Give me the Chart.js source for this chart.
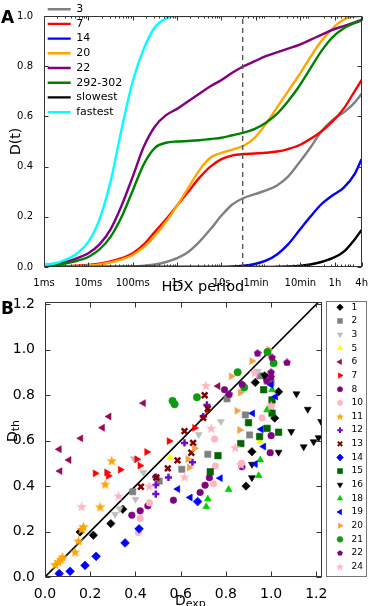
<!DOCTYPE html>
<html lang="en">
<head>
<meta charset="UTF-8">
<title>HDX D(t) curves and Dth vs Dexp</title>
<script src="https://cdn.jsdelivr.net/npm/chart.js@4.4.1/dist/chart.umd.min.js"></script>
<style>
  html, body { margin: 0; padding: 0; background: #fff; }
  body { width: 370px; height: 606px; position: relative; overflow: hidden; }
  canvas { position: absolute; left: 0; }
  #chartA { top: 0; }
  #chartB { top: 290px; }
</style>
</head>
<body>
<canvas id="chartA" width="370" height="296"></canvas>
<canvas id="chartB" width="370" height="316"></canvas>
<script>
Chart.defaults.font.family = "'DejaVu Sans', sans-serif";
Chart.defaults.color = '#000';
Chart.defaults.animation = false;

// ---------- panel A data: D(t) against HDX period (seconds)
const hdxTimes = [0.001, 0.00178, 0.00316, 0.00562, 0.01, 0.0178, 0.0316, 0.0562,
  0.1, 0.178, 0.316, 0.562, 1, 1.78, 3.16, 5.62, 10, 17.8, 31.6, 56.2,
  100, 178, 316, 562, 1000, 1780, 3160, 5620, 10000, 14400];
const curve3 = [0,0,0,0,0,0,0,0.001,0.002,0.005,0.01,0.02,0.035,0.06,0.10,0.15,0.205,0.25,0.275,0.29,0.305,0.325,0.36,0.415,0.475,0.54,0.585,0.615,0.655,0.69];
const curve7 = [0.001,0.002,0.003,0.005,0.008,0.013,0.022,0.035,0.055,0.09,0.14,0.19,0.245,0.30,0.355,0.40,0.43,0.445,0.45,0.452,0.455,0.46,0.47,0.485,0.51,0.54,0.58,0.63,0.70,0.745];
const curve14 = [0,0,0,0,0,0,0,0,0,0,0,0,0,0,0,0,0,0.002,0.005,0.012,0.025,0.05,0.09,0.145,0.2,0.25,0.285,0.315,0.37,0.43];
const curve20 = [0.001,0.001,0.002,0.003,0.006,0.01,0.018,0.03,0.048,0.08,0.125,0.18,0.245,0.315,0.385,0.435,0.455,0.468,0.483,0.515,0.57,0.635,0.70,0.765,0.835,0.90,0.95,0.985,0.998,1.0];
const curve22 = [0.008,0.013,0.02,0.035,0.055,0.09,0.15,0.245,0.36,0.48,0.56,0.605,0.63,0.66,0.69,0.72,0.745,0.775,0.80,0.82,0.84,0.855,0.87,0.885,0.905,0.925,0.945,0.96,0.975,0.985];
const curveMid = [0.005,0.009,0.015,0.025,0.04,0.07,0.12,0.2,0.305,0.41,0.475,0.495,0.5,0.502,0.505,0.51,0.515,0.525,0.535,0.55,0.575,0.61,0.66,0.72,0.79,0.86,0.915,0.95,0.972,0.982];
const curveSlow = [0,0,0,0,0,0,0,0,0,0,0,0,0,0,0,0,0,0,0,0,0,0.001,0.002,0.004,0.01,0.02,0.035,0.06,0.11,0.148];
const curveFast = [0.008,0.015,0.03,0.055,0.10,0.19,0.34,0.55,0.74,0.87,0.955,0.99,1,1,1,1,1,1,1,1,1,1,1,1,1,1,1,1,1,1];
const curveNames = ['3', '7', '14', '20', '22', '292-302', 'slowest', 'fastest'];
const tickTimes = [0.001, 0.01, 0.1, 1, 10, 60, 600, 3600, 14400];
const tickNames = ['1ms', '10ms', '100ms', '1s', '10s', '1min', '10min', '1h', '4h'];
const deadTime = 30;

const curves = [curve3, curve7, curve14, curve20, curve22, curveMid, curveSlow, curveFast];
const lineColors = ['#808080', '#ff0000', '#0000ff', '#ffa500', '#800080', '#008000', '#000000', '#00ffff'];

const dsA = curves.map((c, i) => ({
  label: curveNames[i],
  data: hdxTimes.map((t, k) => ({ x: t, y: c[k] })),
  borderColor: lineColors[i],
  backgroundColor: lineColors[i],
  borderWidth: 2.4,
  pointRadius: 0,
  pointHoverRadius: 0,
  pointBorderWidth: 2.4,
  cubicInterpolationMode: 'monotone',
  order: 20 - i
}));
dsA.push({
  label: 'dead',
  data: [{ x: deadTime, y: 0 }, { x: deadTime, y: 1 }],
  borderColor: '#555',
  borderWidth: 1.4,
  borderDash: [5, 4],
  pointRadius: 0,
  order: 0
});

function tickLine(ctx, x1, y1, x2, y2) { ctx.moveTo(x1, y1); ctx.lineTo(x2, y2); }

const frameA = {
  id: 'frameA',
  afterDraw(chart) {
    const { ctx, chartArea: a } = chart;
    const xs = chart.scales.x, ys = chart.scales.y;
    const L = Math.round(a.left) + 0.5, R = Math.round(a.right) - 0.5;
    const T = Math.round(a.top) + 0.5, B = Math.round(a.bottom) - 0.5;
    ctx.save();
    ctx.strokeStyle = '#333';
    ctx.lineWidth = 1;
    ctx.beginPath();
    xs.ticks.forEach(t => {
      const p = Math.round(xs.getPixelForValue(t.value)) + 0.5;
      tickLine(ctx, p, B, p, B - 4); tickLine(ctx, p, T, p, T + 4);
    });
    for (let e = -3; e <= 4; e++) {
      for (let m = 2; m <= 9; m++) {
        const v = m * Math.pow(10, e);
        if (v >= xs.max) continue;
        const p = Math.round(xs.getPixelForValue(v)) + 0.5;
        tickLine(ctx, p, B, p, B - 2); tickLine(ctx, p, T, p, T + 2);
      }
    }
    ys.ticks.forEach(t => {
      const p = Math.round(ys.getPixelForValue(t.value)) + 0.5;
      tickLine(ctx, L, p, L + 4, p); tickLine(ctx, R, p, R - 4, p);
    });
    ctx.stroke();
    ctx.strokeRect(L, T, R - L, B - T);
    ctx.fillStyle = '#000';
    ctx.font = "bold 17px 'DejaVu Sans'";
    ctx.textBaseline = 'alphabetic';
    ctx.fillText('A', 1, 23);
    ctx.restore();
  }
};

new Chart(document.getElementById('chartA'), {
  type: 'line',
  data: { datasets: dsA },
  options: {
    responsive: false,
    animation: false,
    layout: { padding: { left: 0, right: 3, top: 16, bottom: 0 } },
    plugins: {
      tooltip: { enabled: false },
      legend: {
        position: 'chartArea',
        align: 'start',
        labels: {
          usePointStyle: true,
          pointStyle: 'line',
          pointStyleWidth: 23,
          padding: 3.7,
          font: { size: 11 },
          color: '#000',
          sort: (a, b) => a.datasetIndex - b.datasetIndex,
          filter: item => item.text !== 'dead'
        }
      }
    },
    scales: {
      x: {
        type: 'logarithmic',
        min: 0.001,
        max: 14400,
        afterBuildTicks: s => { s.ticks = tickTimes.map(v => ({ value: v })); },
        afterFit: s => { s.height = 29; },
        grid: { display: false },
        border: { display: false },
        ticks: {
          autoSkip: false, maxRotation: 0, padding: 2,
          font: { size: 10 },
          callback: (v, i) => tickNames[i]
        },
        title: { display: true, text: 'HDX period', font: { size: 14.5 }, padding: { top: 0, bottom: 0 } }
      },
      y: {
        min: 0,
        max: 1,
        afterBuildTicks: s => { s.ticks = [0, 0.2, 0.4, 0.6, 0.8, 1.0].map(v => ({ value: v })); },
        afterFit: s => { s.width = 44; },
        grid: { display: false },
        border: { display: false },
        ticks: { padding: 3, font: { size: 10 }, callback: v => v.toFixed(1) },
        title: { display: true, text: 'D(t)', font: { size: 14 }, padding: { top: 8, bottom: 0 } }
      }
    }
  },
  plugins: [frameA]
});

// ---------- panel B data: [Dexp, Dth] pairs for each peptide
const seriesNames = ['1', '2', '3', '5', '6', '7', '8', '10', '11', '12', '13', '14', '15', '16', '18', '19', '20', '21', '22', '24'];
const s1 = [[0.155,0.198],[0.214,0.184],[0.291,0.235],[0.344,0.298],[0.889,0.40],[0.915,0.551],[0.93,0.856],[0.971,0.885],[1.016,0.699],[1.033,0.815]];
const s2 = [[0.388,0.375],[0.505,0.422],[0.605,0.474],[0.72,0.54],[0.805,0.784],[0.886,0.713],[0.905,0.625],[0.95,0.885],[1.0,0.855]];
const s3 = [[0.31,0.276],[0.33,0.30],[0.40,0.342],[0.393,0.52],[0.435,0.46],[0.68,0.627],[0.778,0.684],[0.94,0.905]];
const s5 = [[0.553,0.525],[0.95,0.597]];
const s6 = [[0.063,0.562],[0.066,0.466],[0.106,0.515],[0.158,0.61],[0.254,0.657],[0.283,0.706],[0.435,0.765],[0.765,0.84]];
const s7 = [[0.222,0.456],[0.273,0.46],[0.28,0.445],[0.333,0.472],[0.406,0.518],[0.42,0.49],[0.45,0.55],[0.549,0.598],[0.662,0.656],[0.72,0.735]];
const s8 = [[0.384,0.272],[0.421,0.291],[0.455,0.313],[0.568,0.338],[0.686,0.372],[0.708,0.404],[0.727,0.437],[0.871,0.485],[0.996,0.547],[1.0,0.622],[0.794,0.824]];
const s10 = [[0.413,0.195],[0.421,0.258],[0.462,0.326],[0.745,0.41],[0.753,0.488],[0.75,0.607],[0.869,0.50],[0.96,0.70],[1.0,0.75]];
const s11 = [[0.045,0.055],[0.06,0.068],[0.07,0.078],[0.078,0.088],[0.133,0.11],[0.148,0.159],[0.162,0.21],[0.17,0.222],[0.244,0.309],[0.266,0.409],[0.295,0.512]];
const s12 = [[0.49,0.365],[0.49,0.405],[0.49,0.44],[0.546,0.438],[0.617,0.59],[0.652,0.505],[0.70,0.706],[0.716,0.757]];
const s13 = [[0.424,0.397],[0.492,0.438],[0.543,0.478],[0.586,0.513],[0.617,0.642],[0.647,0.547],[0.655,0.59],[0.70,0.70],[0.72,0.74],[0.706,0.80]];
const s14 = [[0.063,0.015],[0.111,0.025],[0.177,0.051],[0.226,0.091],[0.354,0.15],[0.416,0.212],[0.675,0.332]];
const s15 = [[0.731,0.463],[0.765,0.534],[0.866,0.587],[0.90,0.679],[0.949,0.618],[0.982,0.654],[1.033,0.637],[0.967,0.824],[1.004,0.779],[1.004,0.721]];
const s16 = [[0.915,0.437],[0.915,0.496],[0.97,0.885],[1.033,0.549],[1.089,0.64],[1.112,0.806],[1.144,0.573],[1.162,0.738],[1.188,0.595],[1.21,0.613],[1.221,0.684]];
const s18 = [[0.713,0.309],[0.72,0.343],[0.812,0.385],[0.945,0.446],[0.952,0.515],[0.982,0.735],[1.004,0.824]];
const s19 = [[0.587,0.387],[0.642,0.35],[0.775,0.435],[0.918,0.72],[0.93,0.497],[0.956,0.65],[0.967,0.574],[1.0,0.846],[1.02,0.794]];
const s20 = [[0.632,0.519],[0.638,0.482],[0.661,0.566],[0.824,0.883],[0.849,0.731],[0.861,0.647],[0.864,0.812],[0.915,0.95],[0.99,1.0]];
const s21 = [[0.564,0.775],[0.573,0.76],[0.672,0.791],[0.852,0.901],[0.881,0.834],[0.984,0.99],[1.011,0.941]];
const s22 = [[0.815,0.804],[0.871,0.849],[0.94,0.985],[0.98,0.863],[1.0,0.88],[1.0,0.901],[1.004,0.966],[1.07,0.944]];
const s24 = [[0.162,0.31],[0.325,0.357],[0.461,0.40],[0.617,0.44],[0.712,0.843],[0.735,0.655],[0.841,0.57],[0.866,0.495],[0.926,0.9],[1.0,0.755]];
const dTicks = [0, 0.2, 0.4, 0.6, 0.8, 1.0, 1.2];
const dMaxX = 1.225, dMaxY = 1.21;

const seriesData = [s1, s2, s3, s5, s6, s7, s8, s10, s11, s12, s13, s14, s15, s16, s18, s19, s20, s21, s22, s24];

// marker looks (matplotlib-ish)
const markStyles = [
  { shape: 'rectRot', color: '#000000', r: 4.2 },
  { shape: 'rect', color: '#808080', r: 4.4 },
  { shape: 'triangle', rot: 180, color: '#bdbdbd', r: 4 },
  { shape: 'triangle', rot: 0, color: '#ffff00', r: 4 },
  { shape: 'triangle', rot: 270, color: '#990a55', r: 4 },
  { shape: 'triangle', rot: 90, color: '#ff0000', r: 4 },
  { shape: 'circle', color: '#800080', r: 3.3 },
  { shape: 'circle', color: '#ffb6c1', r: 3.3 },
  { shape: 'star', color: '#ffa500', size: 11 },
  { shape: 'cross', color: '#6a10cc', r: 3.6, bw: 2.5 },
  { shape: 'crossRot', color: '#800000', r: 4, bw: 2.5 },
  { shape: 'rectRot', color: '#0000ff', r: 4.4 },
  { shape: 'rect', color: '#006400', r: 4.6 },
  { shape: 'triangle', rot: 180, color: '#000000', r: 4 },
  { shape: 'triangle', rot: 0, color: '#00cc00', r: 4 },
  { shape: 'triangle', rot: 270, color: '#0000ff', r: 4 },
  { shape: 'triangle', rot: 90, color: '#f4a04a', r: 4 },
  { shape: 'circle', color: '#109a10', r: 3.7 },
  { shape: 'pentagon', color: '#800080', size: 8 },
  { shape: 'star', color: '#ffb6c1', size: 11 }
];

function makePoly(size, color, n, inner) {
  const c = document.createElement('canvas');
  c.width = c.height = size;
  const g = c.getContext('2d');
  const R = size / 2, cx = size / 2, cy = size / 2 + (inner ? size * 0.05 : size * 0.03);
  const k = inner ? n * 2 : n;
  g.beginPath();
  for (let j = 0; j < k; j++) {
    const rad = inner && j % 2 ? R * inner : R;
    const ang = -Math.PI / 2 + j * 2 * Math.PI / k;
    g.lineTo(cx + rad * Math.cos(ang), cy + rad * Math.sin(ang));
  }
  g.closePath();
  g.fillStyle = color;
  g.fill();
  return c;
}

function pointLook(st, small) {
  if (st.shape === 'star') return makePoly(small ? 8 : st.size, st.color, 5, 0.42);
  if (st.shape === 'pentagon') return makePoly(small ? 6 : st.size, st.color, 5, 0);
  return st.shape;
}

const dsB = seriesData.map((pts, i) => {
  const st = markStyles[i];
  return {
    type: 'scatter',
    label: seriesNames[i],
    data: pts.map(p => ({ x: p[0], y: p[1] })),
    pointStyle: pointLook(st, false),
    rotation: st.rot || 0,
    pointRadius: st.r || 4,
    pointHoverRadius: st.r || 4,
    backgroundColor: st.color,
    borderColor: st.color,
    pointBorderWidth: st.bw || 0.6,
    order: 40 - i
  };
});
dsB.push({
  type: 'line',
  label: 'diag',
  data: [{ x: 0, y: 0 }, { x: dMaxX, y: dMaxX }],
  borderColor: '#000',
  borderWidth: 1.6,
  pointRadius: 0,
  order: 100
});

function subText(ctx, main, sub, x, y, rot) {
  ctx.save();
  ctx.translate(x, y);
  ctx.rotate(rot);
  ctx.textBaseline = 'alphabetic';
  ctx.textAlign = 'left';
  ctx.font = "14px 'DejaVu Sans'";
  ctx.fillText(main, 0, 0);
  const w = ctx.measureText(main).width;
  ctx.font = "11px 'DejaVu Sans'";
  ctx.fillText(sub, w, 2);
  ctx.restore();
}

const frameB = {
  id: 'frameB',
  afterDraw(chart) {
    const { ctx, chartArea: a } = chart;
    const xs = chart.scales.x, ys = chart.scales.y;
    const L = Math.round(a.left) + 0.5, R = Math.round(a.right) - 0.5;
    const T = Math.round(a.top) + 0.5, B = Math.round(a.bottom) - 0.5;
    ctx.save();
    ctx.strokeStyle = '#333';
    ctx.lineWidth = 1;
    ctx.beginPath();
    xs.ticks.forEach(t => {
      const p = Math.round(xs.getPixelForValue(t.value)) + 0.5;
      tickLine(ctx, p, B, p, B - 5); tickLine(ctx, p, T, p, T + 5);
    });
    ys.ticks.forEach(t => {
      const p = Math.round(ys.getPixelForValue(t.value)) + 0.5;
      tickLine(ctx, L, p, L + 5, p); tickLine(ctx, R, p, R - 5, p);
    });
    ctx.stroke();
    ctx.strokeRect(L, T, R - L, B - T);

    ctx.fillStyle = '#000';
    ctx.font = "bold 17px 'DejaVu Sans'";
    ctx.fillText('B', 1, 24);
    subText(ctx, 'D', 'th', 17, 152, -Math.PI / 2);
    subText(ctx, 'D', 'exp', 175, 315, 0);

    // legend box on the right
    const bx = 326.5, by = 11.5, bw = 40, bh = 275;
    ctx.strokeStyle = '#777';
    ctx.strokeRect(bx, by, bw, bh);
    const step = 13.65;
    ctx.font = "9px 'DejaVu Sans'";
    ctx.textBaseline = 'middle';
    seriesNames.forEach((name, i) => {
      const st = markStyles[i];
      const cy = 17.3 + i * step;
      ctx.fillStyle = st.color;
      ctx.strokeStyle = st.color;
      ctx.lineWidth = st.bw ? 2 : 0.6;
      const r = (st.r || 4) * 0.78;
      if (Chart.helpers && Chart.helpers.drawPoint) {
        Chart.helpers.drawPoint(ctx, { pointStyle: pointLook(st, true), rotation: st.rot || 0, radius: r, borderWidth: st.bw ? 2 : 0.6 }, 340, cy);
      }
      ctx.fillStyle = '#000';
      ctx.fillText(name, 351.5, cy);
    });
    ctx.restore();
  }
};

new Chart(document.getElementById('chartB'), {
  type: 'scatter',
  data: { datasets: dsB },
  options: {
    responsive: false,
    animation: false,
    layout: { padding: { left: 0, right: 48, top: 12, bottom: 0 } },
    plugins: { legend: { display: false }, tooltip: { enabled: false } },
    scales: {
      x: {
        type: 'linear', min: 0, max: dMaxX,
        afterBuildTicks: s => { s.ticks = dTicks.map(v => ({ value: v })); },
        afterFit: s => { s.height = 29; },
        grid: { display: false },
        border: { display: false },
        ticks: { padding: 1, font: { size: 14 }, maxRotation: 0, autoSkip: false, callback: v => v.toFixed(1) }
      },
      y: {
        type: 'linear', min: 0, max: dMaxY,
        afterBuildTicks: s => { s.ticks = dTicks.map(v => ({ value: v })); },
        afterFit: s => { s.width = 45; },
        grid: { display: false },
        border: { display: false },
        ticks: { padding: 2, font: { size: 14 }, autoSkip: false, callback: v => v.toFixed(1) }
      }
    }
  },
  plugins: [frameB]
});
</script>
</body>
</html>
